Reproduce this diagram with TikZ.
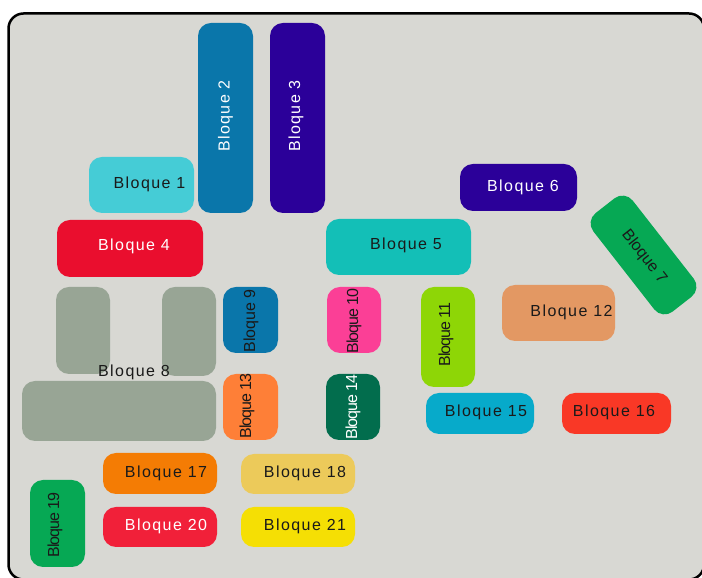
\documentclass[tikz,border=0pt]{standalone}
\usepackage{fontspec}
\setmainfont{Liberation Sans}[LetterSpace=9]
\newfontfamily\plainfont{Liberation Sans}[LetterSpace=0]
\newfontfamily\tightfont{Liberation Sans}[LetterSpace=-7]
\definecolor{bg}{HTML}{D8D8D3}
\definecolor{dk}{HTML}{1A1A1A}
\definecolor{cA}{HTML}{45CCD6}
\definecolor{cB}{HTML}{0A76AA}
\definecolor{cC}{HTML}{2B0099}
\definecolor{cD}{HTML}{EA0E2E}
\definecolor{cE}{HTML}{13BFB7}
\definecolor{cG}{HTML}{06A854}
\definecolor{cH}{HTML}{98A595}
\definecolor{cJ}{HTML}{FB3F96}
\definecolor{cK}{HTML}{8ED606}
\definecolor{cL}{HTML}{E39863}
\definecolor{cM}{HTML}{FE7F37}
\definecolor{cN}{HTML}{026D4D}
\definecolor{cO}{HTML}{07AACA}
\definecolor{cP}{HTML}{F93826}
\definecolor{cQ}{HTML}{F47C04}
\definecolor{cR}{HTML}{ECCA5A}
\definecolor{cS}{HTML}{F12039}
\definecolor{cT}{HTML}{F5DF04}
\tikzset{
  blk/.style={rounded corners=13pt, inner sep=0pt, draw=none},
  txt/.style={font=\fontsize{16}{19}\selectfont, inner sep=0pt, text=dk},
  wtxt/.style={txt, text=white},
  rtxt/.style={font=\fontsize{16}{19}\selectfont\tightfont, inner sep=0pt, text=dk, rotate=90},
  rwtxt/.style={rtxt, text=white},
}
\begin{document}
\begin{tikzpicture}[x=1pt,y=1pt]
\useasboundingbox (0,0) rectangle (702,578);
\clip (0,0) rectangle (702,578);
\draw[line width=2.5pt, fill=bg, rounded corners=15pt] (8.5,564.5) rectangle (704,-1.5);

% Bloque 1
\node[blk, fill=cA, minimum width=105pt, minimum height=56pt] (b1) at (141.5,393) {};
\node[txt] (t1) at (149.5,394) {Bloque 1};
% Bloque 2
\node[blk, fill=cB, minimum width=55pt, minimum height=190pt] (b2) at (225.5,460) {};
\node[wtxt, rotate=90] (t2) at (225.5,462) {Bloque 2};
% Bloque 3
\node[blk, fill=cC, minimum width=55pt, minimum height=190pt] (b3) at (297.5,460) {};
\node[wtxt, rotate=90] (t3) at (296,462) {Bloque 3};
% Bloque 4
\node[blk, fill=cD, minimum width=146pt, minimum height=57pt] (b4) at (130,329.5) {};
\node[wtxt] (t4) at (134,332) {Bloque 4};
% Bloque 5
\node[blk, fill=cE, minimum width=145pt, minimum height=56pt] (b5) at (398.5,331) {};
\node[txt] (t5) at (406,333) {Bloque 5};
% Bloque 6
\node[blk, fill=cC, minimum width=117pt, minimum height=47pt] (b6) at (518.5,390.5) {};
\node[wtxt] (t6) at (523,391) {Bloque 6};
% Bloque 7
\node[blk, fill=cG, minimum width=125pt, minimum height=50pt, rotate=-52] (b7) at (643.5,323) {};
\node[txt, font=\fontsize{16}{19}\selectfont\plainfont, rotate=-52] (t7) at (644,321) {Bloque 7};
% Bloque 8
\node[blk, fill=cH, minimum width=54pt, minimum height=87pt] (b8a) at (83,247.5) {};
\node[blk, fill=cH, minimum width=54pt, minimum height=89pt] (b8b) at (189,246.5) {};
\node[blk, fill=cH, minimum width=194pt, minimum height=60pt] (b8c) at (119,167) {};
\node[txt] (t8) at (134,206) {Bloque 8};
% Bloque 9
\node[blk, fill=cB, minimum width=55pt, minimum height=66pt] (b9) at (250.5,258) {};
\node[rtxt, font=\fontsize{16}{19}\selectfont\plainfont] (t9) at (251,257) {Bloque 9};
% Bloque 10
\node[blk, fill=cJ, minimum width=54pt, minimum height=66pt] (b10) at (354,258) {};
\node[rtxt] (t10) at (354,257) {Bloque 10};
% Bloque 11
\node[blk, fill=cK, minimum width=54pt, minimum height=100pt] (b11) at (448,241) {};
\node[rtxt] (t11) at (446,243.5) {Bloque 11};
% Bloque 12
\node[blk, fill=cL, minimum width=113pt, minimum height=56pt] (b12) at (558.5,265) {};
\node[txt] (t12) at (571.5,266) {Bloque 12};
% Bloque 13
\node[blk, fill=cM, minimum width=55pt, minimum height=66pt] (b13) at (250.5,171) {};
\node[rtxt] (t13) at (247,172) {Bloque 13};
% Bloque 14
\node[blk, fill=cN, minimum width=54pt, minimum height=66pt] (b14) at (353,171) {};
\node[rwtxt] (t14) at (353,171) {Bloque 14};
% Bloque 15
\node[blk, fill=cO, minimum width=108pt, minimum height=41pt] (b15) at (480,164.5) {};
\node[txt] (t15) at (486,166) {Bloque 15};
% Bloque 16
\node[blk, fill=cP, minimum width=109pt, minimum height=41pt] (b16) at (616.5,164.5) {};
\node[txt] (t16) at (614,166) {Bloque 16};
% Bloque 17
\node[blk, fill=cQ, minimum width=114pt, minimum height=41pt] (b17) at (160,104.5) {};
\node[txt] (t17) at (166,104.5) {Bloque 17};
% Bloque 18
\node[blk, fill=cR, minimum width=114pt, minimum height=40pt] (b18) at (298,104) {};
\node[txt] (t18) at (305,104.5) {Bloque 18};
% Bloque 19
\node[blk, fill=cG, minimum width=55pt, minimum height=87pt] (b19) at (57.5,54.5) {};
\node[rtxt] (t19) at (55,53) {Bloque 19};
% Bloque 20
\node[blk, fill=cS, minimum width=114pt, minimum height=40pt] (b20) at (160,51) {};
\node[wtxt] (t20) at (166,51.5) {Bloque 20};
% Bloque 21
\node[blk, fill=cT, minimum width=114pt, minimum height=40pt] (b21) at (298,51) {};
\node[txt] (t21) at (305,51.5) {Bloque 21};
\end{tikzpicture}
\end{document}
